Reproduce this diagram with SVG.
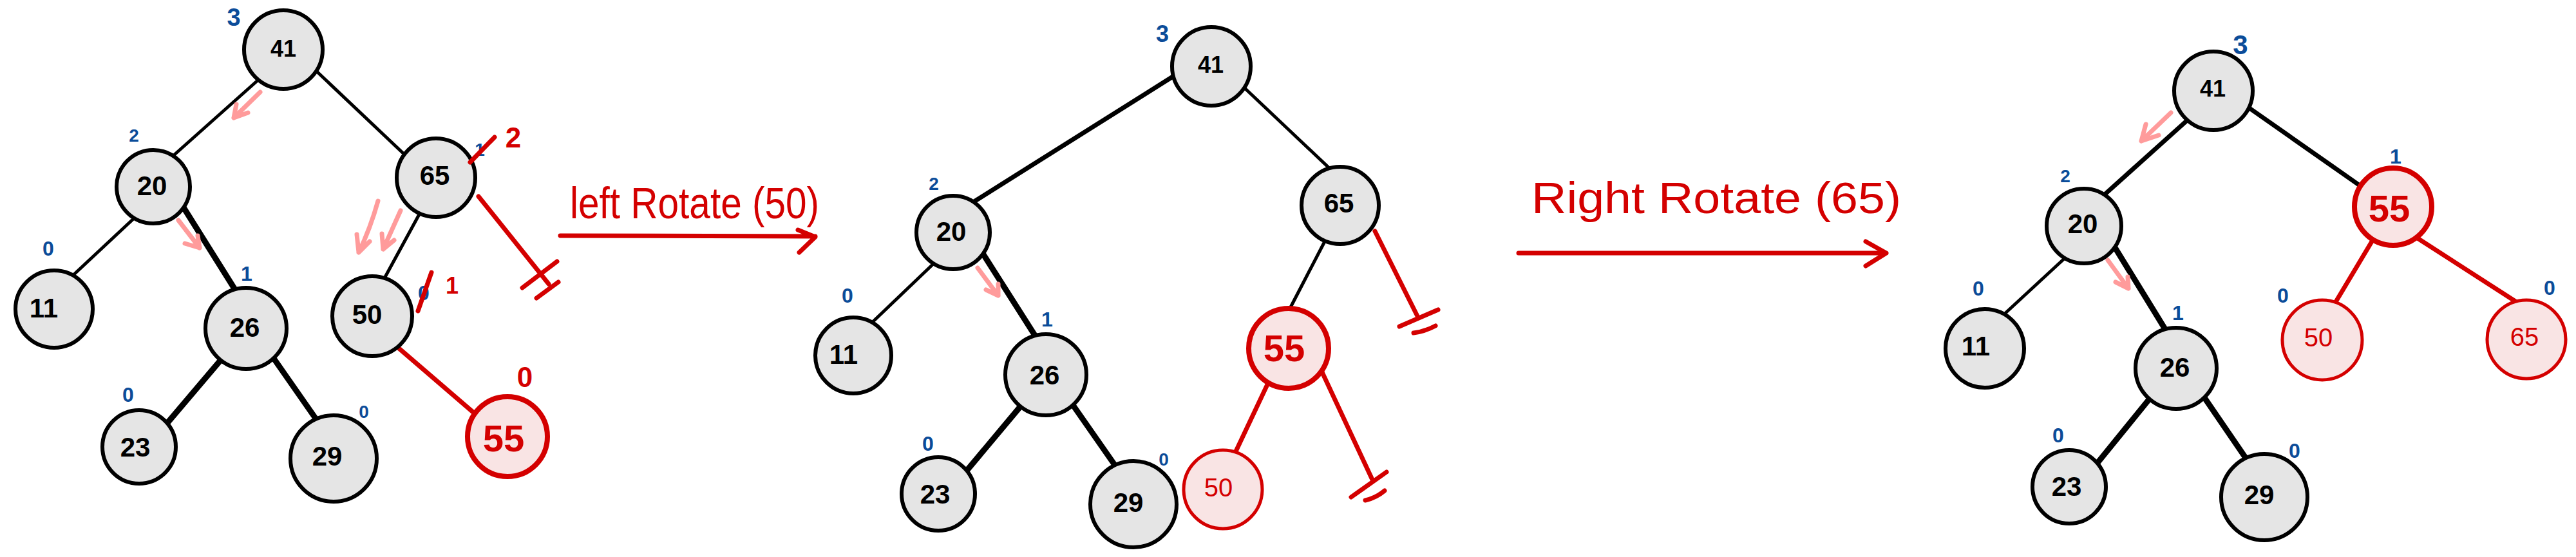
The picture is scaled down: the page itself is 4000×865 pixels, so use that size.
<svg xmlns="http://www.w3.org/2000/svg" width="4000" height="865" viewBox="0 0 4000 865">
<style>
.bg{fill:#fff}
.n circle{fill:#e5e5e5;stroke:#000;stroke-width:6}
.r circle{fill:#f9e4e4;stroke:#d40000;stroke-width:8}
.rt circle{fill:#f9e4e4;stroke:#d40000;stroke-width:5}
text{font-family:"Liberation Sans",Arial,sans-serif;text-anchor:middle;dominant-baseline:central}
.n text{font-size:42px;font-weight:bold;fill:#000}
.r text{font-size:58px;font-weight:bold;fill:#d40000}
.rt text{font-size:40px;fill:#d40000}
.e{stroke:#000;stroke-width:5;stroke-linecap:round;fill:none}
.t{stroke:#000;stroke-width:9;stroke-linecap:round;fill:none}
.m{stroke:#000;stroke-width:7;stroke-linecap:round;fill:none}
.re{stroke:#d40000;stroke-width:7;stroke-linecap:round;stroke-linejoin:round;fill:none}
.pk{stroke:#ff9b9b;stroke-width:7;stroke-linecap:round;stroke-linejoin:round;fill:none}
.h{fill:#0b4c99;font-size:32px;font-weight:bold}
.hr{fill:#d40000;font-size:44px;font-weight:bold}
.title{fill:#d40000;font-size:68px}
</style>
<rect class="bg" x="0" y="0" width="4000" height="865"/>

<g id="connectors">
  <!-- panel 1 -->
  <line class="e" x1="400" y1="125" x2="271" y2="240"/>
  <line class="e" x1="493" y1="112" x2="625" y2="237"/>
  <line class="e" x1="207" y1="340" x2="115" y2="426"/>
  <line class="t" x1="283" y1="319" x2="367" y2="453"/>
  <line class="e" x1="652" y1="331" x2="597" y2="432"/>
  <line class="t" x1="342" y1="560" x2="258" y2="659"/>
  <line class="t" x1="426" y1="558" x2="493" y2="654"/>
  <line class="re" x1="616" y1="538" x2="738" y2="643"/>
  <path class="re" d="M743,305 L852,441 M811,447 L865,406 M833,463 L867,438"/>
  <!-- rotate arrow 1 -->
  <path class="re" d="M870,366 L1266,367 M1239,357 L1266,368 L1241,392"/>
  <!-- panel 2 -->
  <line class="m" x1="1821" y1="119" x2="1511" y2="314"/>
  <line class="e" x1="1934" y1="138" x2="2063" y2="260"/>
  <line class="e" x1="1448" y1="411" x2="1356" y2="499"/>
  <line class="t" x1="1525" y1="392" x2="1609" y2="524"/>
  <line class="e" x1="2057" y1="375" x2="2003" y2="479"/>
  <path class="re" d="M2135,359 L2202,493 M2173,507 L2233,481 M2195,517 Q2212,515 2229,506"/>
  <line class="t" x1="1583" y1="633" x2="1501" y2="731"/>
  <line class="t" x1="1666" y1="629" x2="1733" y2="725"/>
  <line class="re" x1="1969" y1="595" x2="1918" y2="703"/>
  <path class="re" d="M2053,578 L2131,745 M2098,772 L2153,733 M2120,777 Q2137,773 2150,762"/>
  <!-- rotate arrow 2 -->
  <path class="re" d="M2358,393 L2929,393 M2897,375 L2929,393 L2897,413"/>
  <!-- panel 3 -->
  <line class="m" x1="3395" y1="188" x2="3267" y2="303"/>
  <line class="m" x1="3493" y1="168" x2="3667" y2="290"/>
  <line class="e" x1="3205" y1="402" x2="3112" y2="488"/>
  <line class="t" x1="3282" y1="381" x2="3365" y2="516"/>
  <line class="t" x1="3338" y1="619" x2="3256" y2="720"/>
  <line class="t" x1="3424" y1="619" x2="3489" y2="714"/>
  <line class="re" x1="3683" y1="375" x2="3625" y2="472"/>
  <line class="re" x1="3754" y1="370" x2="3906" y2="468"/>
</g>

<g id="pink-arrows">
  <path class="pk" d="M404,143 L363,183 M367,162 L363,183 L385,175"/>
  <path class="pk" d="M277,342 L310,385 M287,378 L310,385 L307,366"/>
  <path class="pk" d="M587,312 Q575,355 557,392 M554,364 L557,392 L574,375"/>
  <path class="pk" d="M622,327 L595,387 M593,363 L595,387 L612,373"/>
  <path class="pk" d="M1518,416 L1550,459 M1531,450 L1550,459 L1550,441"/>
  <path class="pk" d="M3371,175 L3325,219 M3332,193 L3325,219 L3352,210"/>
  <path class="pk" d="M3273,404 L3305,448 M3285,438 L3305,448 L3304,430"/>
</g>

<!-- panel 1 nodes -->
<g id="p1-41" class="n"><circle cx="440" cy="77" r="61"/><text x="440" y="75" style="font-size:36px">41</text></g>
<g id="p1-20" class="n"><circle cx="238" cy="290" r="57"/><text x="236" y="288">20</text></g>
<g id="p1-65" class="n"><circle cx="677" cy="276" r="61"/><text x="675" y="272">65</text></g>
<g id="p1-11" class="n"><circle cx="84" cy="480" r="60"/><text x="68" y="478">11</text></g>
<g id="p1-26" class="n"><circle cx="382" cy="510" r="63"/><text x="380" y="508">26</text></g>
<g id="p1-50" class="n"><circle cx="578" cy="491" r="62"/><text x="570" y="488">50</text></g>
<g id="p1-23" class="n"><circle cx="216" cy="694" r="57"/><text x="210" y="694">23</text></g>
<g id="p1-29" class="n"><circle cx="518" cy="712" r="67"/><text x="508" y="708">29</text></g>
<g id="p1-55" class="r"><circle cx="788" cy="678" r="62"/><text x="782" y="680">55</text></g>

<!-- panel 2 nodes -->
<g id="p2-41" class="n"><circle cx="1881" cy="103" r="61"/><text x="1880" y="100" style="font-size:36px">41</text></g>
<g id="p2-20" class="n"><circle cx="1480" cy="361" r="57"/><text x="1477" y="359">20</text></g>
<g id="p2-65" class="n"><circle cx="2081" cy="319" r="60"/><text x="2079" y="315">65</text></g>
<g id="p2-11" class="n"><circle cx="1325" cy="552" r="59"/><text x="1310" y="550">11</text></g>
<g id="p2-26" class="n"><circle cx="1624" cy="582" r="63"/><text x="1622" y="582">26</text></g>
<g id="p2-55" class="r"><circle cx="2001" cy="541" r="62"/><text x="1994" y="540">55</text></g>
<g id="p2-23" class="n"><circle cx="1457" cy="767" r="57"/><text x="1452" y="767">23</text></g>
<g id="p2-29" class="n"><circle cx="1760" cy="783" r="67"/><text x="1752" y="780">29</text></g>
<g id="p2-50" class="rt"><circle cx="1899" cy="760" r="61"/><text x="1892" y="757">50</text></g>

<!-- panel 3 nodes -->
<g id="p3-41" class="n"><circle cx="3437" cy="141" r="61"/><text x="3436" y="137" style="font-size:36px">41</text></g>
<g id="p3-20" class="n"><circle cx="3236" cy="351" r="58"/><text x="3234" y="347">20</text></g>
<g id="p3-55" class="r"><circle cx="3716" cy="321" r="60"/><text x="3710" y="323">55</text></g>
<g id="p3-11" class="n"><circle cx="3082" cy="541" r="61"/><text x="3068" y="537">11</text></g>
<g id="p3-26" class="n"><circle cx="3379" cy="572" r="63"/><text x="3377" y="570">26</text></g>
<g id="p3-50" class="rt"><circle cx="3606" cy="528" r="62"/><text x="3600" y="524">50</text></g>
<g id="p3-65" class="rt"><circle cx="3923" cy="527" r="61"/><text x="3920" y="523">65</text></g>
<g id="p3-23" class="n"><circle cx="3213" cy="756" r="57"/><text x="3209" y="755">23</text></g>
<g id="p3-29" class="n"><circle cx="3516" cy="772" r="67"/><text x="3508" y="768">29</text></g>

<g id="heights">
  <!-- panel 1 -->
  <text class="h" x="363" y="27" style="font-size:38px">3</text>
  <text class="h" x="208" y="210" style="font-size:28px">2</text>
  <text class="h" x="75" y="386">0</text>
  <text class="h" x="383" y="425">1</text>
  <text class="h" x="199" y="613">0</text>
  <text class="h" x="565" y="639" style="font-size:28px">0</text>
  <text class="h" x="745" y="232" style="font-size:28px">1</text>
  <line class="re" x1="730" y1="252" x2="768" y2="213"/>
  <text class="hr" x="797" y="213">2</text>
  <text class="h" x="658" y="455">0</text>
  <line class="re" x1="649" y1="483" x2="670" y2="423"/>
  <text class="hr" x="702" y="443" style="font-size:36px">1</text>
  <text class="hr" x="815" y="585">0</text>
  <!-- panel 2 -->
  <text class="h" x="1805" y="52" style="font-size:36px">3</text>
  <text class="h" x="1450" y="285" style="font-size:28px">2</text>
  <text class="h" x="1316" y="459">0</text>
  <text class="h" x="1626" y="496">1</text>
  <text class="h" x="1441" y="689">0</text>
  <text class="h" x="1807" y="713" style="font-size:28px">0</text>
  <!-- panel 3 -->
  <text class="h" x="3479" y="69" style="font-size:42px">3</text>
  <text class="h" x="3207" y="273" style="font-size:28px">2</text>
  <text class="h" x="3720" y="243">1</text>
  <text class="h" x="3072" y="448">0</text>
  <text class="h" x="3545" y="459">0</text>
  <text class="h" x="3959" y="447">0</text>
  <text class="h" x="3382" y="486">1</text>
  <text class="h" x="3196" y="676">0</text>
  <text class="h" x="3563" y="700">0</text>
</g>

<g id="titles">
  <text class="title" x="885" y="339" style="text-anchor:start;dominant-baseline:alphabetic" textLength="387" lengthAdjust="spacingAndGlyphs">left Rotate (50)</text>
  <text class="title" x="2378" y="331" style="text-anchor:start;dominant-baseline:alphabetic" textLength="574" lengthAdjust="spacingAndGlyphs">Right Rotate (65)</text>
</g>
</svg>
